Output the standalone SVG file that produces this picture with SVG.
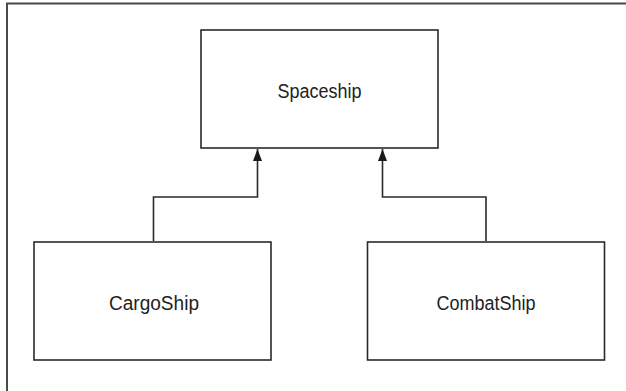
<svg xmlns="http://www.w3.org/2000/svg" width="626" height="391" viewBox="0 0 626 391">
<style>
.box{fill:#fff;stroke:#2a2a2a;stroke-width:1.6}
.lbl{font-family:"Liberation Sans",Arial,sans-serif;font-size:20px;fill:#222;text-anchor:middle}
.con{fill:none;stroke:#2a2a2a;stroke-width:1.6}
.frame{fill:none;stroke:#4a4a4a;stroke-width:2}
</style>
<defs>
<marker id="arr" viewBox="0 0 12 9" refX="12" refY="4.5" markerWidth="12" markerHeight="9" markerUnits="userSpaceOnUse" orient="auto">
<path d="M0,0 L12,4.5 L0,9 Z" fill="#1a1a1a"/>
</marker>
</defs>
<rect width="626" height="391" fill="#fff"/>
<path class="frame" d="M7,391 V3.5 H626"/>
<g id="connectors">
<path class="con" d="M153.5,241 V197 H257.5 V149" marker-end="url(#arr)"/>
<path class="con" d="M486,241 V197 H382.5 V149" marker-end="url(#arr)"/>
</g>
<g id="spaceship">
<rect class="box" x="201" y="30" width="237" height="118"/>
<text class="lbl" x="319.5" y="97.5" textLength="84" lengthAdjust="spacingAndGlyphs">Spaceship</text>
</g>
<g id="cargoship">
<rect class="box" x="34" y="242" width="237" height="118"/>
<text class="lbl" x="154" y="310" textLength="90" lengthAdjust="spacingAndGlyphs">CargoShip</text>
</g>
<g id="combatship">
<rect class="box" x="367.5" y="242" width="237" height="118"/>
<text class="lbl" x="486" y="310" textLength="99" lengthAdjust="spacingAndGlyphs">CombatShip</text>
</g>
</svg>
